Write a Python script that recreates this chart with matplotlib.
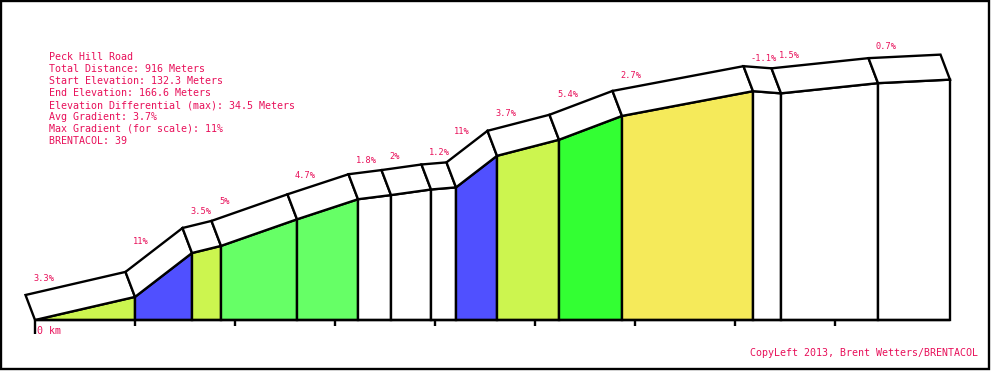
import matplotlib
matplotlib.use("Agg")
import matplotlib.pyplot as plt
import numpy as np
from matplotlib.patches import Rectangle, Polygon

# segment data
seg_len = [100, 57, 29, 76, 61, 33, 40, 25, 41, 62, 63, 131, 28, 97, 72]  # meters
seg_grad = [3.3, 11, 3.5, 5, 4.7, 1.8, 2, 1.2, 11, 3.7, 5.4, 2.7, -1.1, 1.5, 0.7]  # percent

info_lines = [
    "Peck Hill Road",
    "Total Distance: 916 Meters",
    "Start Elevation: 132.3 Meters",
    "End Elevation: 166.6 Meters",
    "Elevation Differential (max): 34.5 Meters",
    "Avg Gradient: 3.7%",
    "Max Gradient (for scale): 11%",
    "BRENTACOL: 39",
]
credit = "CopyLeft 2013, Brent Wetters/BRENTACOL"

W, H = 991, 371
X0, BASE = 35, 320      # pixel position of the start point
VSCALE = 7.0            # px per meter of climb
OFF_X, OFF_Y = -9.5, 25 / VSCALE   # fake 3d depth
TXT = "#e8105a"
LW = 1.7
MONO = "DejaVu Sans Mono"


def grad_color(g):
    bins = [2.5, 3, 4.5, 5.2, 8]
    cols = ["white", "#f5ea5a", "#ccf54f", "#66ff66", "#33ff33", "#5050ff"]
    return cols[np.digitize(g, bins)]


dist = np.concatenate([[0], np.cumsum(seg_len)])
elev = np.concatenate([[0], np.cumsum(np.array(seg_len) * np.array(seg_grad) / 100)])

fig = plt.figure(figsize=(W / 100, H / 100), dpi=100)
ax = fig.add_axes([0, 0, 1, 1])
ax.set_xlim(-X0, W - X0)
ax.set_ylim(-(H - BASE) / VSCALE, BASE / VSCALE)
ax.axis("off")

for i in range(len(seg_len)):
    xa, xb = dist[i], dist[i + 1]
    ea, eb = elev[i], elev[i + 1]
    # side fill
    ax.add_patch(Polygon([(xa, 0), (xa, ea), (xb, eb), (xb, 0)], closed=True,
                         facecolor=grad_color(seg_grad[i]), edgecolor="black",
                         lw=LW, joinstyle="miter"))
    # top face
    ax.add_patch(Polygon([(xa, ea), (xb, eb), (xb + OFF_X, eb + OFF_Y), (xa + OFF_X, ea + OFF_Y)],
                         closed=True, facecolor="white", edgecolor="black", lw=LW))
    # gradient label
    ly = ea + OFF_Y + (10 + 1.9 * seg_grad[i]) / VSCALE
    ax.text(xa - 2, ly, f"{seg_grad[i]:g}%", color=TXT, fontsize=6.2,
            family=MONO, ha="left", va="center")

# baseline and ticks
ax.plot([0, dist[-1]], [0, 0], color="black", lw=LW, solid_capstyle="butt")
ticks = np.arange(0, dist[-1] - 100, 100)
ax.vlines(ticks[1:], 0, -6 / VSCALE, color="black", lw=LW)
ax.vlines(ticks[:1], 0, -14 / VSCALE, color="black", lw=LW)
ax.text(2, -11 / VSCALE, "0 km", color=TXT, fontsize=7.2, family=MONO,
        ha="left", va="center")

# info block
for k, line in enumerate(info_lines):
    fig.text(49 / W, 1 - (57 + 12 * k) / H, line, color=TXT, fontsize=7.2,
             family=MONO, ha="left", va="center")

fig.text(978 / W, 1 - 353.5 / H, credit, color=TXT, fontsize=7.2, family=MONO,
         ha="right", va="center")

# frame
fig.add_artist(Rectangle((1 / W, 2 / H), 988 / W, 368 / H, transform=fig.transFigure,
                         fill=False, edgecolor="black", lw=LW))

fig.savefig("out.png", dpi=100)
